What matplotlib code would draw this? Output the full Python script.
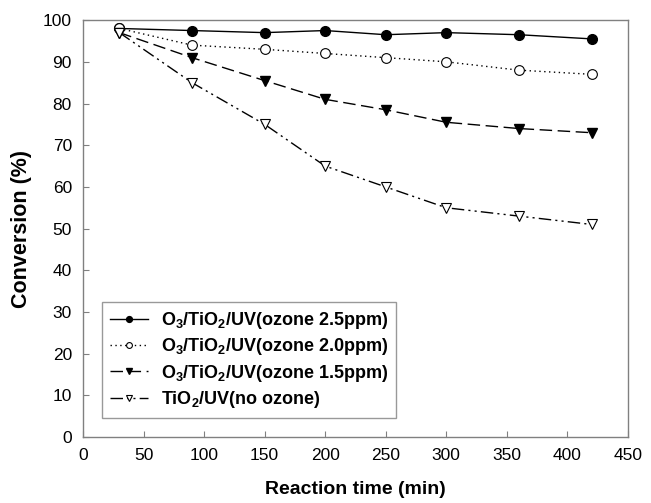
import numpy as np
import matplotlib
matplotlib.use('Agg')
import matplotlib.pyplot as plt

plt.rcParams['font.family'] = ['Liberation Sans', 'DejaVu Sans']
plt.rcParams['mathtext.fontset'] = 'custom'
plt.rcParams['mathtext.rm'] = 'Liberation Sans:bold'
plt.rcParams['mathtext.it'] = 'Liberation Sans:bold'
plt.rcParams['mathtext.bf'] = 'Liberation Sans:bold'

time = [30, 90, 150, 200, 250, 300, 360, 420]
ozone_25 = [98, 97.5, 97, 97.5, 96.5, 97, 96.5, 95.5]
ozone_20 = [98, 94, 93, 92, 91, 90, 88, 87]
ozone_15 = [97, 91, 85.5, 81, 78.5, 75.5, 74, 73]
no_ozone = [97, 85, 75, 65, 60, 55, 53, 51]

labels = ['O$_3$/TiO$_2$/UV(ozone 2.5ppm)',
          'O$_3$/TiO$_2$/UV(ozone 2.0ppm)',
          'O$_3$/TiO$_2$/UV(ozone 1.5ppm)',
          'TiO$_2$/UV(no ozone)']

fig = plt.figure(figsize=(6.51, 5.03), dpi=100)
ax = fig.add_axes([0.1275, 0.131, 0.837, 0.829])

ax.plot(time, ozone_25, color='black', lw=1, ls='-', marker='o', ms=7,
        mfc='black', mec='black', label=labels[0])
ax.plot(time, ozone_20, color='black', lw=1, ls=(0, (1, 2.5)), marker='o', ms=7,
        mfc='white', mec='black', mew=0.8, label=labels[1])
ax.plot(time, ozone_15, color='black', lw=1, ls=(0, (9, 4)), marker='v', ms=7,
        mfc='black', mec='black', label=labels[2])
ax.plot(time, no_ozone, color='black', lw=1, ls=(0, (9, 3, 1.5, 3, 1.5, 3)), marker='v', ms=7,
        mfc='white', mec='black', mew=0.8, label=labels[3])

ax.set_xlim(0, 450)
ax.set_ylim(0, 100)
ax.set_xticks(np.arange(0, 451, 50))
ax.set_yticks(np.arange(0, 101, 10))
ax.tick_params(direction='in', length=4, color='#808080', labelsize=12.5, pad=8)
for s in ax.spines.values():
    s.set_color('#808080')
    s.set_linewidth(1)

ax.set_xlabel('Reaction time (min)', fontsize=14, fontweight='bold', labelpad=13)
ax.set_ylabel('Conversion (%)', fontsize=15.5, fontweight='bold', labelpad=8)

leg = ax.legend(loc='lower left', bbox_to_anchor=(0.035, 0.045), fontsize=13,
                markerscale=0.6, handlelength=2.1, handletextpad=0.7, frameon=True,
                fancybox=False, edgecolor='#808080', borderpad=0.45,
                labelspacing=0.3, borderaxespad=0)
leg.get_frame().set_linewidth(1)
for t in leg.get_texts():
    t.set_fontweight('bold')

fig.savefig('out.png', dpi=100)
